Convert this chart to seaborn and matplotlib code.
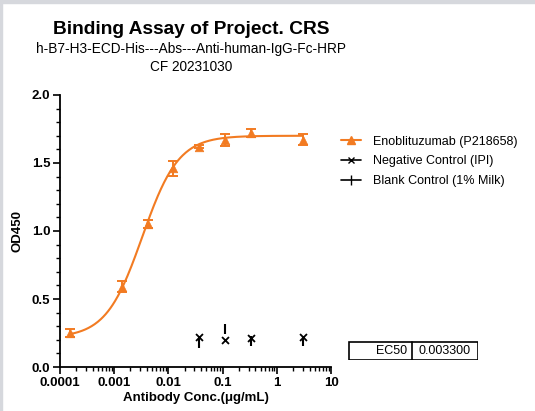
import numpy as np
import pandas as pd
import matplotlib
matplotlib.use("Agg")
import matplotlib.pyplot as plt
import seaborn as sns
from matplotlib.patches import Rectangle
from matplotlib.ticker import (LogLocator, MultipleLocator, FixedLocator,
                               NullFormatter, FormatStrFormatter)

# Enoblituzumab data
conc = [0.000152, 0.00137, 0.00412, 0.0123, 0.037, 0.111, 0.333, 3.0]
od = [0.253, 0.59, 1.05, 1.46, 1.62, 1.67, 1.72, 1.67]
od_err = [0.03, 0.04, 0.03, 0.056, 0.01, 0.045, 0.03, 0.04]

# controls
ctrl_conc = [0.037, 0.111, 0.333, 3.0]
neg_od = [0.22, 0.195, 0.21, 0.22]
blank_od = [0.18, 0.28, 0.19, 0.19]

# 4PL fit parameters
bottom, top, ec50, hill = 0.215, 1.70, 0.0033, 1.3

orange = "#f27b22"

sns.set_theme(style="ticks")
plt.rcParams["font.family"] = ["Liberation Sans", "DejaVu Sans"]
plt.rcParams["text.color"] = "black"
plt.rcParams["axes.labelcolor"] = "black"
plt.rcParams["xtick.color"] = "black"
plt.rcParams["ytick.color"] = "black"

fig = plt.figure(figsize=(5.35, 4.11), dpi=100)
ax = fig.add_axes([0.112, 0.107, 0.507, 0.662])

# fitted curve
xs = np.logspace(np.log10(conc[0]), np.log10(conc[-1]), 300)
fit = pd.DataFrame({"conc": xs, "od": bottom + (top - bottom) / (1 + (ec50 / xs) ** hill)})
sns.lineplot(data=fit, x="conc", y="od", color=orange, lw=1.5, ax=ax)

df = pd.DataFrame({"conc": conc, "od": od, "err": od_err})
ax.errorbar(df["conc"], df["od"], yerr=df["err"], fmt="none", ecolor=orange,
            elinewidth=1.4, capsize=3.8, capthick=1.4)
sns.scatterplot(data=df, x="conc", y="od", marker="^", color=orange, s=38,
                edgecolor=orange, ax=ax, zorder=5)

ctrl = pd.DataFrame({"conc": ctrl_conc, "neg": neg_od, "blank": blank_od})
sns.scatterplot(data=ctrl, x="conc", y="neg", marker="x", color="black", s=25,
                linewidth=1.3, ax=ax, zorder=5)
sns.scatterplot(data=ctrl, x="conc", y="blank", marker="|", color="black", s=45,
                linewidth=1.5, ax=ax, zorder=5)

ax.set_xscale("log")
ax.set_xlim(1e-4, 10)
ax.set_ylim(0, 2.0)
ax.xaxis.set_major_locator(FixedLocator([1e-4, 1e-3, 1e-2, 1e-1, 1, 10]))
ax.xaxis.set_major_formatter(FormatStrFormatter("%g"))
ax.xaxis.set_minor_locator(LogLocator(base=10, subs=np.arange(2, 10), numticks=20))
ax.xaxis.set_minor_formatter(NullFormatter())
ax.yaxis.set_major_locator(MultipleLocator(0.5))
ax.yaxis.set_minor_locator(MultipleLocator(0.1))
ax.yaxis.set_major_formatter(FormatStrFormatter("%.1f"))

for lab in ax.get_xticklabels() + ax.get_yticklabels():
    lab.set_fontweight("bold")
    lab.set_fontsize(9.5)
ax.tick_params(which="major", length=5, width=1.2, color="black", pad=2)
ax.tick_params(which="minor", length=3, width=1.0, color="black")
for s in ["left", "bottom"]:
    ax.spines[s].set_linewidth(1.3)
    ax.spines[s].set_color("black")
sns.despine(ax=ax)

ax.set_xlabel("Antibody Conc.(μg/mL)", fontsize=9.5, fontweight="bold", labelpad=2)
ax.set_ylabel("OD450", fontsize=9.5, fontweight="bold", labelpad=6)

# titles
fig.text(0.357, 0.928, "Binding Assay of Project. CRS", ha="center", va="center",
         fontsize=13.8, fontweight="bold")
fig.text(0.357, 0.88, "h-B7-H3-ECD-His---Abs---Anti-human-IgG-Fc-HRP", ha="center",
         va="center", fontsize=9.8)
fig.text(0.357, 0.836, "CF 20231030", ha="center", va="center", fontsize=9.8)

# legend
handles = [
    plt.Line2D([], [], color=orange, marker="^", markersize=6, lw=1.5),
    plt.Line2D([], [], color="black", marker="x", markersize=5, lw=1.2),
    plt.Line2D([], [], color="black", marker="|", markersize=7, lw=1.2),
]
labels = ["Enoblituzumab (P218658)", "Negative Control (IPI)", "Blank Control (1% Milk)"]
fig.legend(handles, labels, loc="upper left", bbox_to_anchor=(0.628, 0.682),
           frameon=False, fontsize=9, handlelength=1.6, handletextpad=1.0,
           labelspacing=0.62, borderaxespad=0)

# EC50 table
tab = fig.add_axes([348 / 535, 1 - 360 / 411, 130 / 535, 19 / 411])
tab.set_xlim(0, 130)
tab.set_ylim(0, 19)
tab.axis("off")
tab.add_patch(Rectangle((0.5, 0.5), 129, 18, fill=False, lw=1.2, ec="black"))
tab.plot([64, 64], [0.5, 18.5], color="black", lw=1.2)
tab.text(59, 9.5, "EC50", ha="right", va="center", fontsize=9)
tab.text(97, 9.5, "0.003300", ha="center", va="center", fontsize=9)

# screenshot border
fig.patches.append(Rectangle((0, 1 - 3 / 411), 1, 3 / 411, transform=fig.transFigure,
                             color="#d6d8dd", zorder=0))
fig.patches.append(Rectangle((0, 0), 2 / 535, 1, transform=fig.transFigure,
                             color="#d6d8dd", zorder=0))

fig.savefig("out.png", dpi=100)
